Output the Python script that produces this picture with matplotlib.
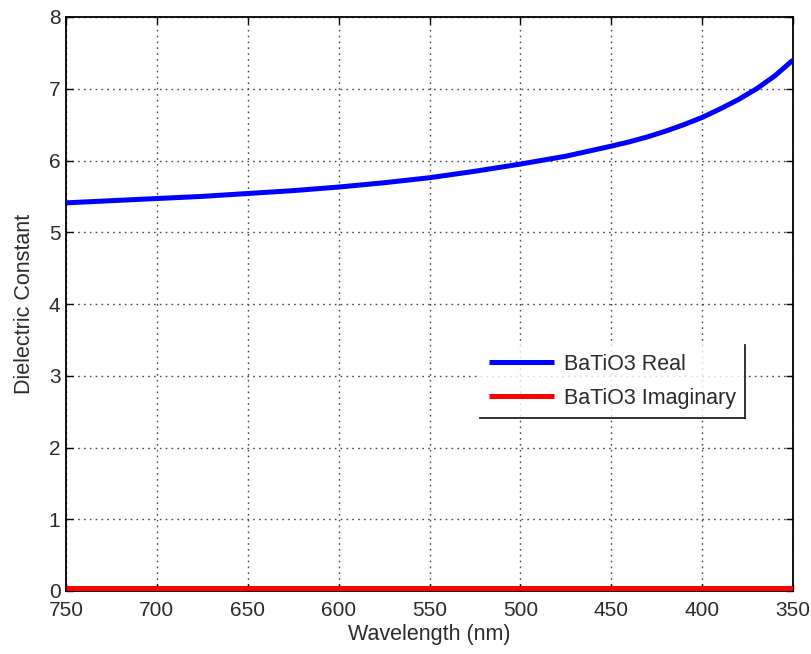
import matplotlib
matplotlib.use("Agg")
import matplotlib.pyplot as plt
from matplotlib.lines import Line2D

# Wavelength grid (nm) and BaTiO3 dielectric constant
wavelength = [750, 725, 700, 675, 650, 625, 600, 575, 550, 525, 500,
              475, 450, 440, 430, 420, 410, 400, 390, 380, 370, 360, 350]
eps_real = [5.41, 5.44, 5.47, 5.50, 5.54, 5.58, 5.63, 5.69, 5.76, 5.85,
            5.95, 6.06, 6.20, 6.26, 6.33, 6.41, 6.50, 6.60, 6.72, 6.85,
            7.00, 7.18, 7.40]
eps_imag = [0.04] * len(wavelength)

x_ticks = [750, 700, 650, 600, 550, 500, 450, 400, 350]
y_ticks = [0, 1, 2, 3, 4, 5, 6, 7, 8]

plt.rcParams['font.family'] = ['Liberation Sans', 'DejaVu Sans']
text_color = '#2b2b2b'

fig = plt.figure(figsize=(8.11, 6.54), dpi=100)
ax = fig.add_axes([66 / 811, 63 / 654, 727 / 811, 574 / 654])

ax.plot(wavelength, eps_real, color='#0000ff', lw=3.6, label='BaTiO3 Real',
        solid_capstyle='butt', solid_joinstyle='round', zorder=3)
ax.plot(wavelength, eps_imag, color='#ff0000', lw=3.6, label='BaTiO3 Imaginary',
        solid_capstyle='butt', zorder=3)

ax.set_xlim(750, 350)
ax.set_ylim(0, 8)
ax.set_xticks(x_ticks)
ax.set_yticks(y_ticks)
ax.tick_params(direction='in', length=5, width=1, top=True, right=True,
               labelsize=15, colors='black')
ax.tick_params(axis='x', pad=7)
ax.tick_params(axis='y', pad=4)
for lbl in ax.get_xticklabels() + ax.get_yticklabels():
    lbl.set_color(text_color)

ax.grid(True, color='#4a4a4a', linestyle=(0, (1.2, 3)), linewidth=1)
for sp in ax.spines.values():
    sp.set_linewidth(1.3)
    sp.set_color('black')

ax.set_xlabel('Wavelength (nm)', fontsize=15.5, color=text_color, labelpad=3)
ax.set_ylabel('Dielectric Constant', fontsize=15.5, color=text_color, labelpad=10)

leg = ax.legend(loc='upper left', bbox_to_anchor=(0.5695, 0.4286),
                fontsize=15.5, handlelength=3.0, handletextpad=0.5,
                borderaxespad=0, borderpad=0.42, labelspacing=0.6,
                frameon=True, fancybox=False)
leg.get_frame().set_edgecolor('none')
leg.get_frame().set_facecolor('white')
for h in leg.get_lines():
    h.set_linewidth(3.6)
for t in leg.get_texts():
    t.set_color(text_color)

# Draw only the right and bottom edges of the legend box
fig.canvas.draw()
bb = leg.get_window_extent().transformed(fig.transFigure.inverted())
fig.add_artist(Line2D([bb.x0, bb.x1], [bb.y0, bb.y0], color='#222222', lw=1.3,
                      transform=fig.transFigure))
fig.add_artist(Line2D([bb.x1, bb.x1], [bb.y0, bb.y1], color='#222222', lw=1.3,
                      transform=fig.transFigure))

fig.savefig('out.png', dpi=100)
